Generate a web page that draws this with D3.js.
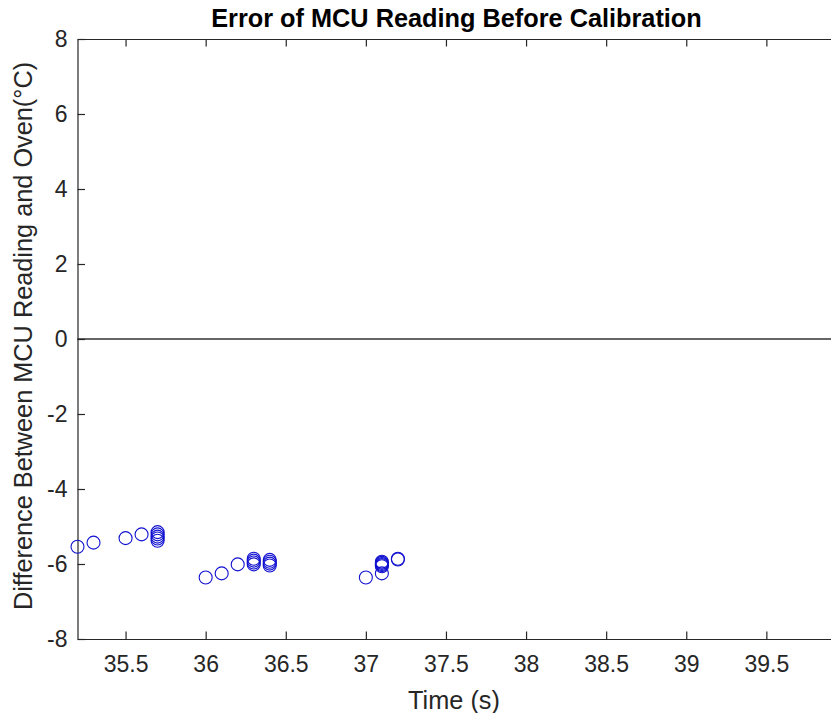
<!DOCTYPE html>
<html>
<head>
<meta charset="utf-8">
<script src="https://cdn.jsdelivr.net/npm/d3@7"></script>
<style>
  html, body { margin: 0; padding: 0; background: #ffffff; }
  svg { display: block; }
  text { font-family: "Liberation Sans", Arial, Helvetica, sans-serif; }
</style>
</head>
<body>
<svg id="chart" width="831" height="713"></svg>
<script>
// ---- Data ----
const timeValues = [
  35.2, 35.3, 35.5, 35.6,
  35.7, 35.7, 35.7, 35.7, 35.7,
  36.0, 36.1, 36.2,
  36.3, 36.3, 36.3, 36.3,
  36.4, 36.4, 36.4, 36.4,
  37.0, 37.1,
  37.1, 37.1, 37.1, 37.1, 37.1,
  37.2, 37.2
];
const errorValues = [
  -5.54, -5.43, -5.31, -5.21,
  -5.15, -5.21, -5.27, -5.32, -5.38,
  -6.36, -6.25, -6.01,
  -5.86, -5.91, -5.96, -6.01,
  -5.89, -5.94, -5.99, -6.04,
  -6.36, -6.25,
  -5.94, -5.97, -6.0, -6.03, -6.06,
  -5.86, -5.88
];
const xTickValues = [35.5, 36, 36.5, 37, 37.5, 38, 38.5, 39, 39.5];
const yTickValues = [-8, -6, -4, -2, 0, 2, 4, 6, 8];
const xDomain = [35.2, 39.955];
const yDomain = [-8, 8];
const titleText = "Error of MCU Reading Before Calibration";
const xLabelText = "Time (s)";
const yLabelText = "Difference Between MCU Reading and Oven(°C)";

// ---- Layout ----
const mLeft = 77.5, mTop = 39, mBottom = 639;
const pxPerUnit = 160.2;
const mRight = mLeft + (xDomain[1] - xDomain[0]) * pxPerUnit;
const axisColor = "#262626";
const tickFont = 23;
const labelFont = 25.3;

const svg = d3.select("#chart");

const x = d3.scaleLinear().domain(xDomain).range([mLeft, mRight]);
const y = d3.scaleLinear().domain(yDomain).range([mBottom, mTop]);

// plain hyphen-minus formatting, like the reference
const fmt = d => String(+d.toFixed(2));

// zero reference line
svg.append("line")
  .attr("x1", mLeft).attr("x2", mRight)
  .attr("y1", y(0)).attr("y2", y(0))
  .attr("stroke", "#333333").attr("stroke-width", 1.3);

// axes
const tickLen = 7.5;
const xAxisBottom = d3.axisBottom(x).tickValues(xTickValues)
  .tickSizeInner(-tickLen).tickSizeOuter(0).tickPadding(17)
  .tickFormat(fmt);
const xAxisTop = d3.axisTop(x).tickValues(xTickValues)
  .tickSizeInner(-tickLen).tickSizeOuter(0).tickFormat("");
const yAxisLeft = d3.axisLeft(y).tickValues(yTickValues)
  .tickSizeInner(-tickLen).tickSizeOuter(0).tickPadding(10)
  .tickFormat(fmt);
const yAxisRight = d3.axisRight(y).tickValues(yTickValues)
  .tickSizeInner(-tickLen).tickSizeOuter(0).tickFormat("");

function styleAxis(g) {
  g.select(".domain").attr("stroke", axisColor).attr("stroke-width", 1.2);
  g.selectAll(".tick line").attr("stroke", axisColor).attr("stroke-width", 1.2);
  g.selectAll(".tick text").attr("fill", axisColor)
    .attr("font-size", tickFont)
    .attr("font-family", "'Liberation Sans', Arial, sans-serif");
}

svg.append("g").attr("transform", `translate(0,${mBottom})`).call(xAxisBottom).call(styleAxis);
svg.append("g").attr("transform", `translate(0,${mTop})`).call(xAxisTop).call(styleAxis);
svg.append("g").attr("transform", `translate(${mLeft},0)`).call(yAxisLeft).call(styleAxis);
svg.append("g").attr("transform", `translate(${mRight},0)`).call(yAxisRight).call(styleAxis);

// data points
const pts = timeValues.map((t, i) => ({ t, v: errorValues[i] }));
svg.append("g").selectAll("circle").data(pts).join("circle")
  .attr("cx", d => x(d.t)).attr("cy", d => y(d.v))
  .attr("r", 6.5)
  .attr("fill", "none")
  .attr("stroke", "#1010d0")
  .attr("stroke-width", 1.1);

// title
svg.append("text")
  .attr("x", 456.5).attr("y", 27)
  .attr("text-anchor", "middle")
  .attr("font-size", labelFont).attr("font-weight", "bold")
  .attr("fill", "#000000")
  .text(titleText);

// x label
svg.append("text")
  .attr("x", 454).attr("y", 709)
  .attr("text-anchor", "middle")
  .attr("font-size", labelFont).attr("fill", axisColor)
  .text(xLabelText);

// y label
svg.append("text")
  .attr("transform", `translate(32,336) rotate(-90)`)
  .attr("text-anchor", "middle")
  .attr("font-size", labelFont).attr("fill", axisColor)
  .text(yLabelText);
</script>
</body>
</html>
